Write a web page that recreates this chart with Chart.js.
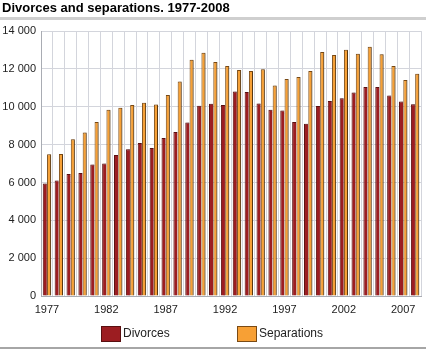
<!DOCTYPE html>
<html>
<head>
<meta charset="utf-8">
<script src="https://cdn.jsdelivr.net/npm/chart.js@4"></script>
<style>
  html, body { margin: 0; padding: 0; background: #fff; }
  #wrap { position: relative; width: 426px; height: 350px; }
</style>
</head>
<body>
<div id="wrap"><canvas id="c" width="426" height="350"></canvas></div>
<script>
const titleText = 'Divorces and separations. 1977-2008';
const years = ['1977','1978','1979','1980','1981','1982','1983','1984','1985','1986',
  '1987','1988','1989','1990','1991','1992','1993','1994','1995','1996',
  '1997','1998','1999','2000','2001','2002','2003','2004','2005','2006','2007','2008'];
const divorces = [5950, 6100, 6450, 6500, 6950, 7000, 7450, 7750, 8080, 7820,
  8350, 8670, 9170, 10050, 10160, 10090, 10810, 10780, 10180, 9840,
  9800, 9200, 9110, 10040, 10300, 10450, 10760, 11040, 11040, 10590, 10280, 10140];
const separations = [7490, 7500, 8280, 8640, 9190, 9840, 9950, 10090, 10210, 10120,
  10620, 11330, 12480, 12850, 12370, 12160, 11950, 11890, 11980, 11120,
  11470, 11580, 11890, 12900, 12740, 13010, 12800, 13170, 12780, 12160, 11420, 11740];
const yTicks = [0, 2000, 4000, 6000, 8000, 10000, 12000, 14000];
const seriesNames = ['Divorces', 'Separations'];

const FONT = "'Liberation Sans', Arial, Helvetica, sans-serif";
const fmt = v => String(v).replace(/\B(?=(\d{3})+(?!\d))/g, ' ');

const decorPlugin = {
  id: 'decor',
  beforeDraw(chart) {
    const ctx = chart.ctx;
    ctx.save();
    ctx.fillStyle = '#cfcfcf';
    ctx.fillRect(0, 17, 426, 3);
    ctx.fillStyle = '#a6a6a6';
    ctx.fillRect(0, 347, 426, 2);
    ctx.restore();
  },
  beforeDatasetsDraw(chart) {
    const ctx = chart.ctx;
    ctx.save();
    ctx.shadowColor = 'rgba(0,0,0,0.32)';
    ctx.shadowOffsetX = 1.5;
    ctx.shadowOffsetY = 0;
    ctx.shadowBlur = 1;
  },
  afterDatasetsDraw(chart) {
    chart.ctx.restore();
  },
  afterDraw(chart) {
    const ctx = chart.ctx;
    const xs = [101, 237];
    ctx.save();
    ctx.font = '12px ' + FONT;
    ctx.textBaseline = 'middle';
    ctx.textAlign = 'left';
    chart.data.datasets.forEach((ds, i) => {
      const x = xs[i], y = 326;
      ctx.fillStyle = ds.borderColor;
      ctx.fillRect(x, y, 20, 16);
      ctx.fillStyle = ds.backgroundColor;
      ctx.fillRect(x + 1, y + 1, 18, 14);
      ctx.fillStyle = '#222';
      ctx.fillText(ds.label, x + 22, y + 8);
    });
    ctx.restore();
  }
};

new Chart(document.getElementById('c'), {
  type: 'bar',
  data: {
    labels: years,
    datasets: [
      { label: seriesNames[0], data: divorces, backgroundColor: '#9c1d21', borderColor: '#5a0f10',
        borderWidth: {left: 1, top: 1, right: 0, bottom: 0}, borderSkipped: false,
        categoryPercentage: 0.72, barPercentage: 0.95 },
      { label: seriesNames[1], data: separations, backgroundColor: '#f7a035', borderColor: '#7a4a14',
        borderWidth: {left: 1, top: 1, right: 1, bottom: 0}, borderSkipped: false,
        categoryPercentage: 0.72, barPercentage: 0.95 }
    ]
  },
  options: {
    responsive: false,
    animation: false,
    devicePixelRatio: 1,
    layout: { padding: { left: 2, right: 5, top: 0, bottom: 0 } },
    plugins: {
      legend: { display: false },
      tooltip: { enabled: false },
      title: {
        display: true, text: titleText, align: 'start', color: '#000',
        font: { family: FONT, size: 13, weight: 'bold' },
        padding: { top: 0.5, bottom: 15 }
      }
    },
    scales: {
      x: {
        grid: { color: '#d3d5dc', lineWidth: 1, drawTicks: false, offset: true },
        border: { color: '#a9acb3' },
        ticks: {
          autoSkip: false, maxRotation: 0, minRotation: 0, padding: 7,
          color: '#222', font: { family: FONT, size: 11 },
          callback: function(v, i) { return i % 5 === 0 ? this.getLabelForValue(v) : ''; }
        },
        afterFit(s) { s.height = 54; }
      },
      y: {
        min: 0, max: 14000,
        afterBuildTicks(s) { s.ticks = yTicks.map(v => ({ value: v })); },
        grid: { color: '#d3d5dc', lineWidth: 1, drawTicks: false },
        border: { color: '#a9acb3' },
        ticks: { padding: 5, color: '#222', font: { family: FONT, size: 11 }, callback: v => fmt(v) },
        afterFit(s) { s.width = 39; }
      }
    }
  },
  plugins: [decorPlugin]
});
</script>
</body>
</html>
